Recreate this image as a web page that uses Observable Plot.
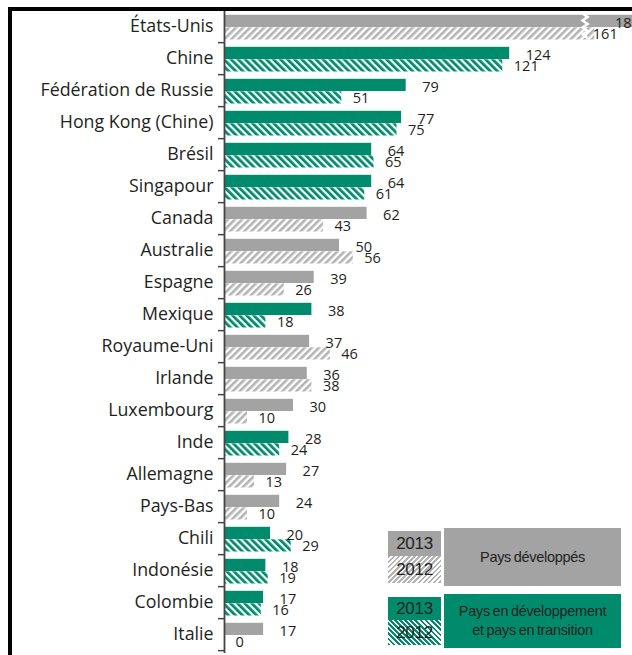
<!DOCTYPE html>
<html><head><meta charset="utf-8">
<script src="https://cdn.jsdelivr.net/npm/d3@7"></script>
<script src="https://cdn.jsdelivr.net/npm/@observablehq/plot@0.6"></script>
<style>
html,body{margin:0;padding:0;background:#fff;overflow:hidden;}
#wrap{position:relative;width:632px;height:655px;overflow:hidden;background:#fff;}
#chart{position:absolute;left:0;top:0;width:700px;}
#chart svg{max-width:none !important;}
#frame{position:absolute;left:8px;top:7px;width:700px;height:700px;border-left:4px solid #000;border-top:4px solid #000;pointer-events:none;}
.lg{position:absolute;box-sizing:border-box;display:flex;align-items:center;justify-content:center;text-align:center;font-family:"Liberation Sans",Arial,sans-serif;color:#222;}
.yr{font-size:17px;letter-spacing:-0.3px;}
.big{font-size:14.5px;letter-spacing:-0.3px;word-spacing:-1px;line-height:19px;}
</style></head><body>
<div id="wrap"><div id="chart"></div><div id="frame"></div><div id="legend"></div></div>
<script>
const countries = ["États-Unis","Chine","Fédération de Russie","Hong Kong (Chine)","Brésil","Singapour","Canada","Australie","Espagne","Mexique","Royaume-Uni","Irlande","Luxembourg","Inde","Allemagne","Pays-Bas","Chili","Indonésie","Colombie","Italie"];
const values2013 = [188,124,79,77,64,64,62,50,39,38,37,36,30,28,27,24,20,18,17,17];
const values2012 = [161,121,51,75,65,61,43,56,26,18,46,38,10,24,13,10,29,19,16,0];
const groups = ["dev","eco","eco","eco","eco","eco","dev","dev","dev","eco","dev","dev","dev","eco","dev","dev","eco","eco","eco","dev"];
const years = ["2013","2012"];
const groupLabels = {dev: "Pays développés", eco: "Pays en développement et pays en transition"};
const breakAt = 157;

const GREY = "#a3a3a3", GREEN = "#008c6c", TEXT = "#231f20";
const fills = {
  dev: {"2013": GREY, "2012": "url(#hatchGrey)"},
  eco: {"2013": GREEN, "2012": "url(#hatchGreen)"}
};

const data = countries.flatMap((c, i) => [
  {country: c, group: groups[i], year: "2013", value: values2013[i]},
  {country: c, group: groups[i], year: "2012", value: values2012[i]}
]);
const d13 = data.filter(d => d.year === "2013");
const d12 = data.filter(d => d.year === "2012");
const isBroken = d => values2013[countries.indexOf(d.country)] > breakAt;
const normal = d => !isBroken(d);

const band = (653 - 7) / countries.length;

const plot = Plot.plot({
  width: 700, height: 655,
  marginTop: 7, marginBottom: 2, marginLeft: 224, marginRight: 16,
  style: {fontFamily: "'Open Sans', sans-serif", background: "transparent", overflow: "visible", maxWidth: "none"},
  x: {domain: [0, 200], axis: null},
  y: {domain: countries, padding: 0, axis: null},
  color: {type: "identity"},
  marks: [
    Plot.barX(d13, {x: "value", y: "country", fill: d => fills[d.group][d.year], insetTop: 4.8, insetBottom: band - 17.3}),
    Plot.barX(d12, {x: "value", y: "country", fill: d => fills[d.group][d.year], insetTop: 17.3, insetBottom: band - 29.8}),
    Plot.text(d13.filter(normal), {x: "value", y: "country", text: d => String(d.value), textAnchor: "start", dx: 16, dy: -3.6, fontSize: 14.5, fill: TEXT}),
    Plot.text(d12.filter(normal), {x: "value", y: "country", text: d => String(d.value), textAnchor: "start", dx: 11, dy: 8.3, fontSize: 14.5, fill: TEXT}),
    Plot.text(d13.filter(isBroken), {x: "value", y: "country", text: d => String(d.value), textAnchor: "start", dx: -42, dy: -3.6, fontSize: 14.5, fill: TEXT}),
    Plot.text(d12.filter(isBroken), {x: "value", y: "country", text: d => String(d.value), textAnchor: "start", dx: -2, dy: 8.3, fontSize: 14.5, fill: TEXT}),
    Plot.text(countries, {x: 0, y: d => d, text: d => d, textAnchor: "end", dx: -11, fontSize: 17.8, fill: TEXT}),
    Plot.ruleY(countries, {y: d => d, x1: -2.6, x2: 0, dy: band / 2, stroke: "#444", strokeWidth: 1.5}),
    Plot.ruleX([0], {stroke: "#444", strokeWidth: 1.8})
  ]
});
document.getElementById("chart").appendChild(plot);

// hatch patterns
const svg = d3.select(plot);
const defs = svg.insert("defs", ":first-child");
function hatch(id, color, rot, w) {
  const p = defs.append("pattern").attr("id", id).attr("patternUnits", "userSpaceOnUse")
    .attr("width", 5).attr("height", 5).attr("patternTransform", `rotate(${rot})`);
  p.append("rect").attr("width", 5).attr("height", 5).attr("fill", "#fff");
  p.append("rect").attr("width", w).attr("height", 5).attr("fill", color);
}
hatch("hatchGrey", "#b3b3b3", 45, 2.6);
hatch("hatchGreen", GREEN, -45, 2.8);

// axis break zigzag on the bars that exceed the break value
const xs = plot.scale("x"), ys = plot.scale("y");
countries.forEach((c, i) => {
  if (values2013[i] > breakAt) {
    const bx = xs.apply(breakAt), y0 = ys.apply(c);
    const pts = [];
    const top = y0 + 3.5, bot = y0 + 31;
    let k = 0;
    for (let y = top; y <= bot; y += 3.5, k++) pts.push([bx + (k % 2 ? 2.5 : -2.5), y]);
    svg.append("path").attr("d", d3.line()(pts)).attr("fill", "none").attr("stroke", "#fff").attr("stroke-width", 2.6);
  }
});

// legend
const legend = document.getElementById("legend");
function box(style, cls, html) {
  const d = document.createElement("div");
  d.className = "lg " + cls;
  Object.assign(d.style, style);
  d.innerHTML = html;
  legend.appendChild(d);
}
const hatchGreyCss = "repeating-linear-gradient(135deg, #b3b3b3 0px, #b3b3b3 1.9px, #fff 1.9px, #fff 3.6px)";
const hatchGreenCss = "repeating-linear-gradient(45deg, " + GREEN + " 0px, " + GREEN + " 2px, #fff 2px, #fff 3.6px)";
box({left: "388px", top: "531px", width: "53px", height: "25px", background: GREY}, "yr", years[0]);
box({left: "388px", top: "556px", width: "53px", height: "27px", background: hatchGreyCss}, "yr", years[1]);
box({left: "444px", top: "528px", width: "177px", height: "58px", background: GREY}, "big", groupLabels.dev);
box({left: "388px", top: "597px", width: "53px", height: "23px", background: GREEN}, "yr", years[0]);
box({left: "388px", top: "620px", width: "53px", height: "25px", background: hatchGreenCss}, "yr", years[1]);
box({left: "444px", top: "594px", width: "177px", height: "54px", background: GREEN}, "big", "Pays en développement<br>et pays en transition");
</script>
</body></html>
